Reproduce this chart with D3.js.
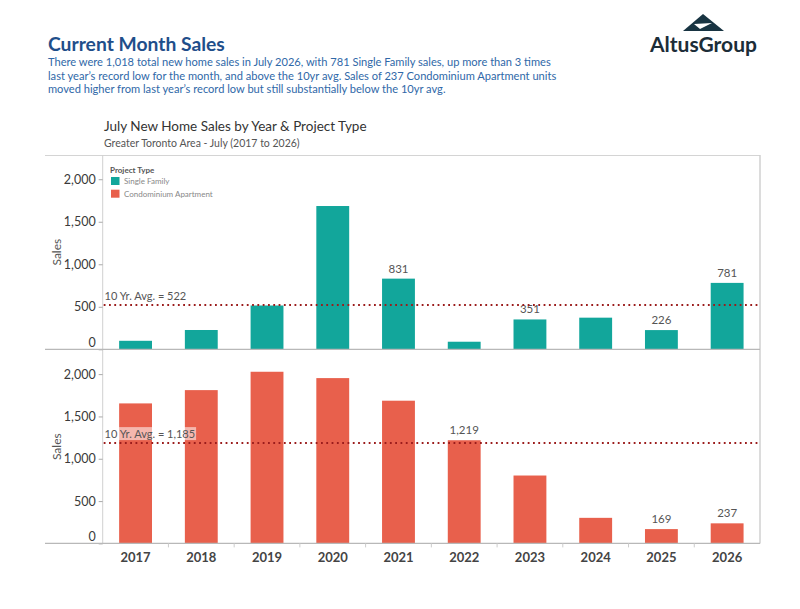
<!DOCTYPE html>
<html>
<head>
<meta charset="utf-8">
<script src="https://cdn.jsdelivr.net/npm/d3@7"></script>
<style>
	body { margin: 0; background: #fff; }
	text { font-family: Lato, "Open Sans", sans-serif; }
</style>
</head>
<body>
<div id="chart"></div>
<script>

// ----------------------------------
// DATA
// ----------------------------------

const years = ['2017','2018','2019','2020','2021','2022','2023','2024','2025','2026'];

// July sales by project type
const singleFamily = [100, 227, 515, 1685, 831, 89, 351, 372, 226, 781];
const condoApartment = [1654, 1811, 2028, 1953, 1686, 1219, 802, 302, 169, 237];

const singleFamilyAvg = 522;
const condoAvg = 1185;

// only some bars carry a value label
const singleFamilyLabeled = ['2021','2023','2025','2026'];
const condoLabeled = ['2022','2025','2026'];

const yTicks = [0, 500, 1000, 1500, 2000];

const legendTitle = 'Project Type';
const legendLabels = ['Single Family', 'Condominium Apartment'];

const headline = 'Current Month Sales';
const blurb = [
	"There were 1,018 total new home sales in July 2026, with 781 Single Family sales, up more than 3 times",
	"last year\u2019s record low for the month, and above the 10yr avg. Sales of 237 Condominium Apartment units",
	"moved higher from last year\u2019s record low but still substantially below the 10yr avg."
];
const chartTitle = 'July New Home Sales by Year & Project Type';
const chartSubtitle = 'Greater Toronto Area - July (2017 to 2026)';


// ----------------------------------
// SETUP
// ----------------------------------

const width = 800,
	height = 609,
	plotLeft = 102.7,
	plotRight = 760,
	frameLeft = 45,
	colors = ['#12a69b', '#e8604c'],
	fmt = d3.format(',');

const svg = d3.select('#chart')
	.append('svg')
	.attr('width', width)
	.attr('height', height);

// ----------------------------------
// HEADER
// ----------------------------------

svg.append('text')
	.attr('x', 48)
	.attr('y', 51)
	.attr('font-size', 19.3)
	.attr('font-weight', 'bold')
	.attr('fill', '#1f4e8a')
	.text(headline);

svg.append('g')
	.selectAll('text')
	.data(blurb)
	.enter()
	.append('text')
	.attr('x', 48)
	.attr('y', (d, i) => 66 + i * 13.5)
	.attr('font-size', 11.1)
	.attr('fill', '#2f68a8')
	.text(d => d);

// logo
const logo = svg.append('g').attr('transform', 'translate(703,14)');
logo.append('path')
	.attr('d', 'M0,0 L21,17 L-20,17 Z')
	.attr('fill', '#183442');
logo.append('path')
	.attr('d', 'M-9,10 L9,9 L-3,15 Z')
	.attr('fill', '#fff');

svg.append('text')
	.attr('x', 650)
	.attr('y', 52)
	.attr('font-size', 21)
	.attr('font-weight', 'bold')
	.attr('fill', '#1c2d38')
	.attr('letter-spacing', 0)
	.text('AltusGroup');

svg.append('text')
	.attr('x', 104)
	.attr('y', 131)
	.attr('font-size', 13.5)
	.attr('fill', '#333')
	.text(chartTitle);

svg.append('text')
	.attr('x', 104)
	.attr('y', 147)
	.attr('font-size', 10.5)
	.attr('fill', '#555')
	.text(chartSubtitle);

// ----------------------------------
// SCALES
// ----------------------------------

const xScale = d3.scaleBand()
	.domain(years)
	.range([plotLeft, plotRight])
	.paddingInner(0.5)
	.paddingOuter(0.25);

const panes = [
	{ top: 155, bottom: 349.3, values: singleFamily, avg: singleFamilyAvg, labeled: singleFamilyLabeled, color: colors[0] },
	{ top: 350, bottom: 543.4, values: condoApartment, avg: condoAvg, labeled: condoLabeled, color: colors[1] }
];

// ----------------------------------
// FRAME
// ----------------------------------

const frame = svg.append('g').attr('class', 'frame');

frame.append('line')
	.attr('x1', frameLeft).attr('x2', plotRight)
	.attr('y1', 155.5).attr('y2', 155.5)
	.attr('stroke', '#d4d4d4');

frame.append('line')
	.attr('x1', plotRight).attr('x2', plotRight)
	.attr('y1', 155).attr('y2', 543.4)
	.attr('stroke', '#d0d0d0')
	.attr('stroke-width', 1.5);

frame.append('line')
	.attr('x1', plotLeft).attr('x2', plotLeft)
	.attr('y1', 155).attr('y2', 543.4)
	.attr('stroke', '#d0d0d0');

// ----------------------------------
// PANES
// ----------------------------------

panes.forEach((pane, pi) => {

	const yScale = d3.scaleLinear()
		.domain([0, 2285])
		.range([pane.bottom, pane.top]);

	const g = svg.append('g').attr('class', 'pane');

	// bars
	g.selectAll('rect')
		.data(years.map((y, i) => ({ year: y, value: pane.values[i] })))
		.enter()
		.append('rect')
		.attr('x', d => xScale(d.year))
		.attr('y', d => yScale(d.value))
		.attr('width', xScale.bandwidth())
		.attr('height', d => pane.bottom - yScale(d.value))
		.attr('fill', pane.color);

	// value labels
	g.selectAll('.value')
		.data(years.map((y, i) => ({ year: y, value: pane.values[i] })).filter(d => pane.labeled.includes(d.year)))
		.enter()
		.append('text')
		.attr('class', 'value')
		.attr('x', d => xScale(d.year) + xScale.bandwidth() / 2)
		.attr('y', d => yScale(d.value) - 6)
		.attr('text-anchor', 'middle')
		.attr('font-size', 11.5)
		.attr('fill', '#555')
		.text(d => fmt(d.value));

	// y axis
	const yAxis = g.append('g')
		.attr('transform', `translate(${plotLeft},0)`)
		.call(d3.axisLeft(yScale).tickValues(yTicks).tickSize(4).tickPadding(3).tickFormat(fmt));

	yAxis.select('.domain').remove();
	yAxis.selectAll('line').attr('stroke', '#aaa');
	yAxis.selectAll('text')
		.attr('font-size', 12.5)
		.attr('fill', '#3a3a3a')
		.attr('font-family', 'Lato, sans-serif')
		.attr('dy', d => d === 0 ? '-0.25em' : '0.32em');

	// zero line across the header column
	g.append('line')
		.attr('x1', frameLeft).attr('x2', plotRight)
		.attr('y1', pane.bottom).attr('y2', pane.bottom)
		.attr('stroke', '#b8b8b8')
		.attr('stroke-width', 1.2);

	// 10 yr average reference line
	g.append('line')
		.attr('x1', plotLeft + 1).attr('x2', plotRight - 1)
		.attr('y1', yScale(pane.avg)).attr('y2', yScale(pane.avg))
		.attr('stroke', '#9b1c1c')
		.attr('stroke-width', 2)
		.attr('stroke-dasharray', '1.8 3.5');

	const avgLabel = g.append('text')
		.attr('x', 104.5)
		.attr('y', yScale(pane.avg) - 5)
		.attr('font-size', 11)
		.attr('fill', '#555')
		.text(`10 Yr. Avg. = ${fmt(pane.avg)}`);

	if (pi === 1) {
		const bb = avgLabel.node().getBBox();
		g.append('rect')
			.attr('x', bb.x - 1)
			.attr('y', bb.y)
			.attr('width', bb.width + 2)
			.attr('height', bb.height)
			.attr('fill', '#fff')
			.attr('opacity', 0.55);
		avgLabel.raise();
	}

	// axis title
	g.append('text')
		.attr('transform', `translate(61,${(pane.top + pane.bottom) / 2}) rotate(-90)`)
		.attr('text-anchor', 'middle')
		.attr('font-size', 12)
		.attr('fill', '#555')
		.text('Sales');
});

// ----------------------------------
// X AXIS
// ----------------------------------

const xAxis = svg.append('g')
	.attr('transform', `translate(0,${panes[1].bottom})`)
	.call(d3.axisBottom(xScale).tickSize(0).tickPadding(9));

xAxis.select('.domain').remove();
xAxis.selectAll('text')
	.attr('font-size', 13)
	.attr('font-weight', 'bold')
	.attr('fill', '#444')
	.attr('font-family', 'Lato, sans-serif');

// small ticks between the year bands
xAxis.selectAll('.sep')
	.data(years.slice(1))
	.enter()
	.append('line')
	.attr('class', 'sep')
	.attr('x1', d => xScale(d) - xScale.step() * xScale.paddingInner() / 2)
	.attr('x2', d => xScale(d) - xScale.step() * xScale.paddingInner() / 2)
	.attr('y1', 0).attr('y2', 4)
	.attr('stroke', '#ccc');

// ----------------------------------
// LEGEND
// ----------------------------------

const legend = svg.append('g').attr('transform', 'translate(111,166)');

legend.append('text')
	.attr('x', -1)
	.attr('y', 7)
	.attr('font-size', 8)
	.attr('font-weight', 'bold')
	.attr('fill', '#555')
	.text(legendTitle);

const items = legend.selectAll('.item')
	.data(legendLabels)
	.enter()
	.append('g')
	.attr('transform', (d, i) => `translate(0,${11 + i * 12.7})`);

items.append('rect')
	.attr('width', 8.5)
	.attr('height', 8)
	.attr('fill', (d, i) => colors[i]);

items.append('text')
	.attr('x', 13)
	.attr('y', 7)
	.attr('font-size', 8)
	.attr('fill', '#888')
	.text(d => d);

</script>
</body>
</html>
